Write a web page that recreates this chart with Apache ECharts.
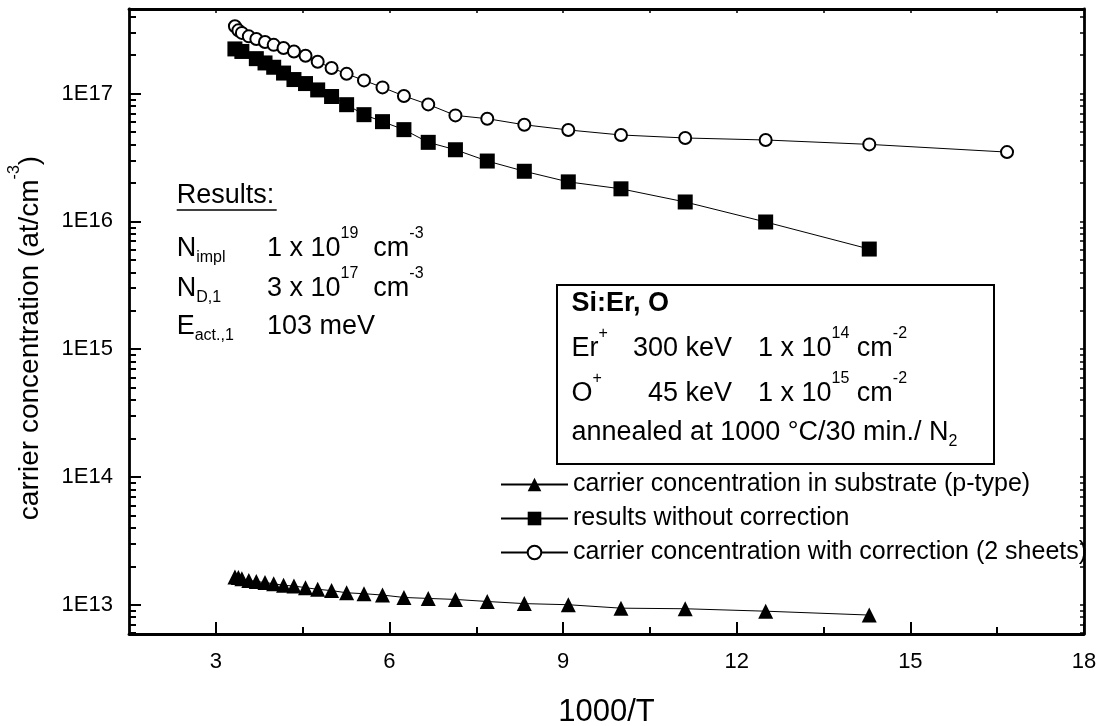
<!DOCTYPE html>
<html><head><meta charset="utf-8">
<script src="https://cdn.jsdelivr.net/npm/echarts@6/dist/echarts.min.js"></script>
<style>html,body{margin:0;padding:0;background:#fff}#c{width:1098px;height:726px}</style>
</head><body><div id="c"></div>
<script>
// ---- data ----
const invTCorrected = [3.33, 3.39, 3.45, 3.57, 3.70, 3.85, 4.00, 4.17, 4.35, 4.55, 4.76, 5.00, 5.26, 5.56, 5.88, 6.25, 6.67, 7.14, 7.69, 8.33, 9.09, 10.00, 11.11, 12.50, 14.29, 16.67];
const corrected = [3.37e17, 3.13e17, 2.99e17, 2.81e17, 2.68e17, 2.54e17, 2.41e17, 2.28e17, 2.14e17, 1.98e17, 1.78e17, 1.59e17, 1.43e17, 1.27e17, 1.12e17, 9.6e16, 8.24e16, 6.76e16, 6.37e16, 5.71e16, 5.2e16, 4.75e16, 4.5e16, 4.34e16, 4.01e16, 3.49e16];
const invTUncorrected = [3.33, 3.45, 3.70, 3.85, 4.00, 4.17, 4.35, 4.55, 4.76, 5.00, 5.26, 5.56, 5.88, 6.25, 6.67, 7.14, 7.69, 8.33, 9.09, 10.00, 11.11, 12.50, 14.29];
const uncorrected = [2.24e17, 2.14e17, 1.88e17, 1.74e17, 1.61e17, 1.45e17, 1.29e17, 1.20e17, 1.07e17, 9.5e16, 8.2e16, 6.85e16, 6.04e16, 5.23e16, 4.16e16, 3.64e16, 2.97e16, 2.47e16, 2.04e16, 1.80e16, 1.42e16, 9.9e15, 6.08e15];
const invTSubstrate = [3.33, 3.39, 3.45, 3.57, 3.70, 3.85, 4.00, 4.17, 4.35, 4.55, 4.76, 5.00, 5.26, 5.56, 5.88, 6.25, 6.67, 7.14, 7.69, 8.33, 9.09, 10.00, 11.11, 12.50, 14.29];
const substrate = [1.65e13, 1.63e13, 1.60e13, 1.55e13, 1.52e13, 1.49e13, 1.46e13, 1.42e13, 1.40e13, 1.36e13, 1.32e13, 1.29e13, 1.24e13, 1.22e13, 1.19e13, 1.14e13, 1.12e13, 1.10e13, 1.06e13, 1.02e13, 1.00e13, 9.4e12, 9.3e12, 8.9e12, 8.3e12];
const seriesNames = ['carrier concentration in substrate (p-type)', 'results without correction', 'carrier concentration with correction (2 sheets)'];
const xTickLabels = [3, 6, 9, 12, 15, 18];
const xMinorTicks = [4.5, 7.5, 10.5, 13.5, 16.5];
const xTopTicks = [3, 4.5, 6, 7.5, 9, 10.5, 12, 13.5, 15, 16.5];
const yDecades = [13, 14, 15, 16, 17];

// ---- layout / style ----
const FONT = '"Liberation Sans", Arial, Helvetica, sans-serif';
const XMIN = 1.5, XMAX = 18, YMIN = 5.9e12, YMAX = 4.6e17;
const lmin = Math.log10(YMIN), lmax = Math.log10(YMAX);
const yMinorLog = [];
for (let e = 12; e <= 17; e++) for (let k = 2; k <= 9; k++) {
  const v = e + Math.log10(k);
  if (v > lmin && v < lmax) yMinorLog.push(v);
}
const BLACK = '#000';

function rich(size) {
  const sub = Math.round(size * 0.58);
  return {
    m: {fontSize: size, fontFamily: FONT, fill: BLACK},
    b: {fontSize: size, fontFamily: FONT, fontWeight: 'bold', fill: BLACK},
    sup: {fontSize: sub, fontFamily: FONT, fill: BLACK, padding: [0, 0, Math.round(size * 1.1), 0]},
    sub: {fontSize: sub, fontFamily: FONT, fill: BLACK, padding: [Math.round(size * 0.62), 0, 0, 0]}
  };
}
function txt(x, y, text, size, align, rotation) {
  return {type: 'text', x: x, y: y, rotation: rotation || 0, silent: true, z: 100,
    style: {text: text, align: align || 'left', verticalAlign: 'middle', fill: BLACK,
      fontSize: size, fontFamily: FONT, rich: rich(size)}};
}

const AS = 27;
const graphics = [
  // Results block
  txt(176.7, 196, '{m|Results:}', AS),
  {type: 'line', silent: true, z: 100, shape: {x1: 176.7, y1: 210, x2: 276.7, y2: 210}, style: {stroke: BLACK, lineWidth: 1.5}},
  txt(176.7, 249, '{m|N}{sub|impl}', AS),
  txt(267, 249, '{m|1 x 10}{sup|19}{m|  cm}{sup|-3}', AS),
  txt(176.7, 289, '{m|N}{sub|D,1}', AS),
  txt(267, 289, '{m|3 x 10}{sup|17}{m|  cm}{sup|-3}', AS),
  txt(176.7, 327, '{m|E}{sub|act.,1}', AS),
  txt(267, 327, '{m|103 meV}', AS),
  // sample box
  {type: 'rect', silent: true, z: 90, shape: {x: 557, y: 285, width: 437, height: 179}, style: {fill: '#fff', stroke: BLACK, lineWidth: 2}},
  txt(571.5, 304, '{b|Si:Er, O}', AS),
  txt(571.5, 349, '{m|Er}{sup|+}', AS),
  txt(732, 349, '{m|300 keV}', AS, 'right'),
  txt(758, 349, '{m|1 x 10}{sup|14}{m| cm}{sup|-2}', AS),
  txt(571.5, 394, '{m|O}{sup|+}', AS),
  txt(732, 394, '{m|45 keV}', AS, 'right'),
  txt(758, 394, '{m|1 x 10}{sup|15}{m| cm}{sup|-2}', AS),
  txt(571.5, 433, '{m|annealed at 1000 °C/30 min./ N}{sub|2}', AS),
  // y axis title
  txt(30, 338, '{m|carrier concentration (at/cm}{sup|-3}{m|)}', 28, 'center', Math.PI / 2)
];

const lineSeries = (name, xs, ys, symbol, size, extra) => Object.assign({
  name: name, type: 'line', xAxisIndex: 0, yAxisIndex: 0,
  data: xs.map((x, i) => [x, ys[i]]),
  symbol: symbol, symbolSize: size, showSymbol: true,
  lineStyle: {color: BLACK, width: 1},
  itemStyle: {color: BLACK},
  emphasis: {disabled: true}, animation: false
}, extra || {});

const chart = echarts.init(document.getElementById('c'), null, {renderer: 'canvas'});
chart.setOption({
  backgroundColor: '#fff',
  animation: false,
  grid: {left: 129, right: 14, top: 9, bottom: 92, outerBoundsMode: 'none', containLabel: false},
  xAxis: [
    {type: 'value', position: 'bottom', min: XMIN, max: XMAX,
      name: '1000/T', nameLocation: 'middle', nameGap: 63,
      nameTextStyle: {fontSize: 31, fontFamily: FONT, color: BLACK},
      axisLine: {show: true, lineStyle: {color: BLACK, width: 2.8}},
      axisTick: {show: true, inside: true, length: 12, lineStyle: {color: BLACK, width: 2}, customValues: xTickLabels},
      axisLabel: {customValues: xTickLabels, fontSize: 22, fontFamily: FONT, color: BLACK, margin: 17},
      splitLine: {show: false}},
    {type: 'value', position: 'bottom', min: XMIN, max: XMAX,
      axisLine: {show: false},
      axisTick: {show: true, inside: true, length: 7, lineStyle: {color: BLACK, width: 2}, customValues: xMinorTicks},
      axisLabel: {show: false}, splitLine: {show: false}},
    {type: 'value', position: 'top', min: XMIN, max: XMAX,
      axisLine: {show: true, lineStyle: {color: BLACK, width: 2.8}},
      axisTick: {show: true, inside: true, length: 4, lineStyle: {color: BLACK, width: 1.5}, customValues: xTopTicks},
      axisLabel: {show: false}, splitLine: {show: false}}
  ],
  yAxis: [
    {type: 'log', logBase: 10, position: 'left', min: YMIN, max: YMAX,
      axisLine: {show: true, lineStyle: {color: BLACK, width: 2.8}},
      axisTick: {show: true, inside: true, length: 12, lineStyle: {color: BLACK, width: 2}},
      axisLabel: {show: true, formatter: v => '1E' + Math.round(Math.log10(v)), showMinLabel: false, showMaxLabel: false,
        fontSize: 22, fontFamily: FONT, color: BLACK, margin: 16},
      splitLine: {show: false}, minorTick: {show: false}},
    {type: 'value', position: 'left', min: lmin, max: lmax,
      axisLine: {show: false},
      axisTick: {show: true, inside: true, length: 7, lineStyle: {color: BLACK, width: 2}, customValues: yMinorLog},
      axisLabel: {show: false}, splitLine: {show: false}},
    {type: 'value', position: 'right', min: lmin, max: lmax,
      axisLine: {show: true, lineStyle: {color: BLACK, width: 2.8}},
      axisTick: {show: true, inside: true, length: 4, lineStyle: {color: BLACK, width: 1.5}, customValues: yDecades.concat(yMinorLog)},
      axisLabel: {show: false}, splitLine: {show: false}}
  ],
  legend: {
    show: true, orient: 'vertical', left: 500, top: 472, padding: 0,
    itemWidth: 67, itemHeight: 17, itemGap: 9, selectedMode: false,
    textStyle: {fontSize: 25, fontFamily: FONT, color: BLACK, lineHeight: 25},
    data: seriesNames
  },
  graphic: graphics,
  series: [
    lineSeries(seriesNames[0], invTSubstrate, substrate, 'triangle', 15),
    lineSeries(seriesNames[1], invTUncorrected, uncorrected, 'rect', 15),
    lineSeries(seriesNames[2], invTCorrected, corrected, 'emptyCircle', 12,
      {itemStyle: {color: BLACK, borderColor: BLACK, borderWidth: 2}})
  ]
});
</script></body></html>
